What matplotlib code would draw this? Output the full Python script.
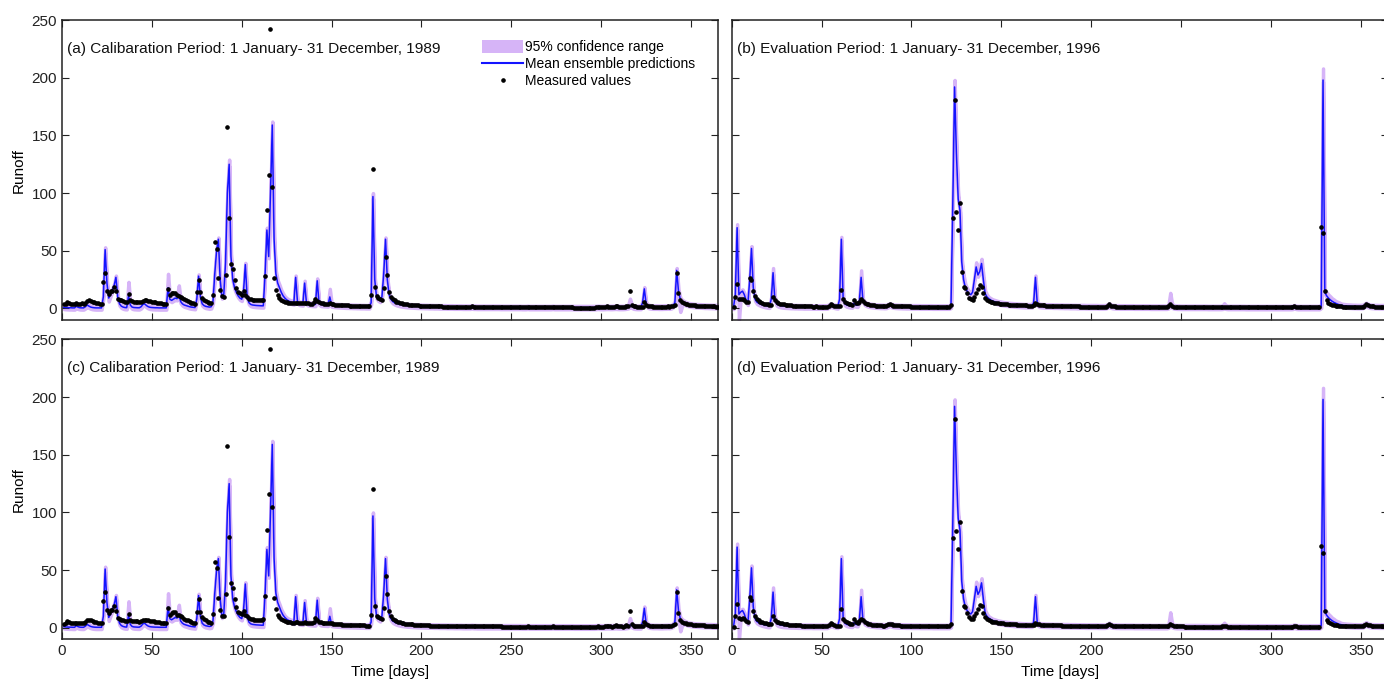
import numpy as np
import matplotlib.pyplot as plt
from matplotlib.patches import Patch
from matplotlib.lines import Line2D

plt.rcParams['font.family'] = ['Liberation Sans', 'DejaVu Sans']

days = np.arange(1, 366)

# ---- 1989 (calibration) ----
obs_1989 = [
    3.5, 3.8, 6.0, 4.8, 4.2, 4.0, 3.8, 4.5, 4.0, 3.8,
    4.5, 4.2, 5.0, 6.5, 7.0, 6.8, 6.0, 5.2, 4.8, 4.5,
    4.2, 4.0, 23.0, 30.9, 15.5, 12.5, 15.5, 15.5, 19.0, 15.0,
    8.5, 7.5, 7.0, 6.5, 6.0, 5.8, 12.2, 7.0, 6.2, 6.0,
    5.8, 5.6, 5.5, 5.8, 6.5, 7.2, 7.0, 6.5, 6.2, 6.0,
    5.6, 5.2, 5.0, 4.8, 4.5, 4.3, 4.2, 4.0, 16.9, 11.5,
    13.0, 13.5, 13.5, 11.5, 11.0, 10.0, 9.0, 8.0, 7.2, 6.5,
    5.8, 5.0, 4.5, 4.0, 14.0, 25.0, 14.0, 9.0, 7.5, 6.5,
    5.5, 5.0, 4.5, 12.1, 57.4, 51.6, 26.2, 15.6, 10.4, 10.0,
    29.1, 157.4, 78.4, 38.6, 34.3, 24.8, 17.9, 14.1, 13.0, 12.0,
    15.0, 11.3, 10.0, 8.5, 8.0, 7.5, 7.2, 7.0, 7.0, 7.0,
    7.2, 7.5, 28.0, 85.0, 115.6, 242.0, 105.0, 26.0, 16.0, 11.5,
    9.0, 7.5, 6.5, 6.0, 5.5, 5.0, 4.8, 4.6, 4.5, 5.0,
    4.8, 4.6, 4.5, 4.4, 5.0, 4.6, 4.4, 4.3, 4.2, 5.5,
    8.5, 6.5, 5.5, 4.8, 4.5, 4.3, 4.2, 4.0, 4.5, 3.8,
    3.6, 3.4, 3.2, 3.1, 3.0, 2.9, 2.8, 2.7, 2.6, 2.5,
    2.4, 2.4, 2.3, 2.3, 2.2, 2.2, 2.1, 2.1, 2.0, 2.0,
    2.0, 11.5, 120.7, 19.0, 10.5, 9.0, 8.5, 7.5, 17.5, 44.6,
    29.0, 14.5, 10.0, 8.0, 7.0, 6.0, 5.3, 4.8, 4.4, 4.0,
    3.7, 3.5, 3.3, 3.1, 3.0, 2.8, 2.7, 2.6, 2.5, 2.4,
    2.3, 2.2, 2.2, 2.1, 2.0, 2.0, 1.9, 1.9, 1.8, 1.8,
    1.8, 1.7, 1.7, 1.7, 1.6, 1.6, 1.6, 1.5, 1.5, 1.5,
    1.5, 1.5, 1.4, 1.4, 1.4, 1.4, 1.4, 1.8, 1.5, 1.4,
    1.4, 1.3, 1.3, 1.3, 1.3, 1.3, 1.2, 1.2, 1.2, 1.2,
    1.2, 1.2, 1.2, 1.2, 1.1, 1.1, 1.1, 1.1, 1.1, 1.1,
    1.1, 1.0, 1.0, 1.0, 1.0, 1.0, 1.0, 1.0, 1.3, 1.0,
    1.0, 1.0, 1.0, 1.0, 0.9, 0.9, 0.9, 0.9, 0.9, 0.9,
    0.9, 0.9, 1.2, 0.9, 0.9, 0.9, 0.9, 0.9, 0.9, 0.9,
    0.9, 0.9, 0.9, 0.9, 0.8, 0.8, 0.8, 0.8, 0.8, 0.8,
    0.8, 0.8, 0.8, 0.8, 0.8, 0.8, 0.9, 1.2, 1.0, 0.9,
    0.9, 1.5, 2.0, 1.5, 1.2, 1.0, 1.5, 2.2, 1.8, 1.4,
    1.2, 1.0, 1.5, 2.5, 2.0, 15.0, 3.0, 2.0, 1.8, 1.5,
    1.5, 1.4, 1.5, 5.5, 3.0, 2.2, 2.0, 1.8, 1.7, 1.6,
    1.6, 1.5, 1.5, 1.5, 1.5, 1.6, 1.8, 1.5, 2.0, 2.5,
    3.0, 31.0, 13.0, 7.0, 5.5, 4.5, 4.0, 3.5, 3.2, 3.0,
    2.8, 2.6, 2.5, 2.4, 2.3, 2.2, 2.1, 2.0, 2.0, 1.9,
    1.9, 1.8, 1.8, 1.7, 1.7,
]

mean_1989 = [
    1.0, 0.8, 0.7, 0.6, 0.6, 0.5, 0.5, 2.0, 1.0, 0.6,
    0.5, 0.5, 1.5, 3.0, 2.0, 1.2, 0.8, 0.6, 0.5, 0.5,
    0.5, 0.5, 10.0, 51.0, 22.0, 9.0, 12.0, 16.0, 20.0, 27.0,
    10.0, 4.0, 2.0, 1.2, 0.8, 0.7, 11.0, 3.0, 1.2, 0.8,
    0.7, 0.6, 0.6, 1.5, 3.5, 4.0, 2.5, 1.5, 1.0, 0.8,
    0.7, 0.6, 0.6, 0.5, 0.5, 0.5, 0.5, 0.5, 18.0, 8.0,
    7.0, 8.0, 9.0, 8.5, 12.0, 6.0, 4.0, 3.0, 2.5, 2.0,
    1.5, 1.2, 1.0, 0.8, 8.0, 28.0, 10.0, 4.0, 2.5, 1.8,
    1.5, 1.2, 1.5, 6.0, 30.0, 50.0, 60.0, 25.0, 10.0, 12.0,
    40.0, 100.0, 125.0, 45.0, 25.0, 18.0, 14.0, 11.0, 9.0, 8.0,
    15.0, 38.0, 10.0, 5.0, 3.5, 3.0, 2.8, 2.6, 2.5, 2.4,
    2.3, 2.3, 30.0, 68.0, 45.0, 100.0, 159.0, 60.0, 30.0, 22.0,
    18.0, 14.0, 11.0, 9.0, 7.5, 6.5, 5.8, 5.2, 4.8, 27.0,
    6.0, 4.5, 4.2, 4.0, 22.0, 5.0, 4.0, 3.8, 3.6, 3.5,
    3.5, 24.0, 5.0, 3.6, 3.4, 3.3, 3.2, 3.1, 10.0, 3.0,
    2.8, 2.6, 2.5, 2.4, 2.3, 2.2, 2.1, 2.0, 2.0, 1.9,
    1.9, 1.8, 1.8, 1.7, 1.7, 1.6, 1.6, 1.6, 1.5, 1.5,
    1.5, 5.0, 97.0, 25.0, 10.0, 8.0, 7.0, 10.0, 30.0, 60.0,
    25.0, 12.0, 8.0, 6.0, 5.0, 4.3, 3.8, 3.4, 3.1, 2.9,
    2.7, 2.5, 2.4, 2.3, 2.2, 2.1, 2.0, 1.9, 1.9, 1.8,
    1.8, 1.7, 1.7, 1.6, 1.6, 1.6, 1.5, 1.5, 1.5, 1.4,
    1.4, 1.4, 1.4, 1.3, 1.3, 1.3, 1.3, 1.2, 1.2, 1.2,
    1.2, 1.2, 1.1, 1.1, 1.1, 1.1, 1.1, 1.3, 1.1, 1.1,
    1.0, 1.0, 1.0, 1.0, 1.0, 1.0, 1.0, 1.0, 1.0, 1.0,
    1.0, 1.0, 1.0, 0.9, 0.9, 0.9, 0.9, 0.9, 0.9, 0.9,
    0.9, 0.9, 0.9, 0.9, 0.9, 0.8, 0.8, 0.8, 1.0, 0.8,
    0.8, 0.8, 0.8, 0.8, 0.8, 0.8, 0.8, 0.8, 0.8, 0.8,
    0.8, 0.8, 1.0, 0.8, 0.8, 0.8, 0.8, 0.8, 0.8, 0.8,
    0.8, 0.8, 0.8, 0.8, 0.7, 0.7, 0.7, 0.7, 0.7, 0.7,
    0.7, 0.7, 0.7, 0.7, 0.7, 0.7, 0.8, 1.0, 0.9, 0.8,
    0.8, 0.9, 1.0, 1.0, 0.9, 0.9, 1.0, 1.1, 1.0, 0.9,
    0.9, 0.9, 1.0, 1.2, 1.5, 2.5, 2.0, 1.2, 1.0, 0.9,
    0.9, 0.9, 5.0, 17.0, 4.0, 2.0, 1.5, 1.3, 1.2, 1.2,
    1.2, 1.1, 1.1, 1.1, 1.2, 1.2, 1.3, 1.2, 1.5, 2.5,
    5.0, 33.0, 15.0, 8.0, 6.0, 5.0, 4.2, 3.6, 3.2, 2.9,
    2.7, 2.5, 2.4, 2.3, 2.2, 2.1, 2.0, 1.9, 1.9, 1.8,
    1.8, 1.7, 1.7, 1.6, 1.6,
]

# distance of the 95% band above / below the ensemble mean
ci_up_1989 = [
    1.5, 1.5, 1.5, 1.5, 1.5, 1.5, 1.5, 1.5, 1.5, 1.5,
    1.5, 1.5, 1.5, 1.5, 1.5, 1.5, 1.5, 1.5, 1.5, 1.5,
    1.5, 1.5, 2.0, 2.0, 2.0, 1.5, 1.5, 1.5, 1.5, 1.5,
    1.5, 1.5, 1.5, 1.5, 1.5, 1.5, 12.0, 1.5, 1.5, 1.5,
    1.5, 1.5, 1.5, 1.5, 1.5, 1.5, 1.5, 1.5, 1.5, 1.5,
    1.5, 1.5, 1.5, 1.5, 1.5, 1.5, 1.5, 1.5, 12.0, 2.0,
    1.5, 1.5, 1.5, 1.5, 8.0, 1.5, 1.5, 1.5, 1.5, 1.5,
    1.5, 1.5, 1.5, 1.5, 2.0, 1.5, 1.5, 1.5, 1.5, 1.5,
    1.5, 1.5, 1.5, 1.5, 2.0, 2.0, 1.5, 1.5, 1.5, 1.5,
    1.5, 2.0, 4.0, 2.0, 1.5, 1.5, 1.5, 1.5, 1.5, 1.5,
    1.5, 1.5, 1.5, 1.5, 1.5, 1.5, 1.5, 1.5, 1.5, 1.5,
    1.5, 1.5, 2.0, 2.0, 2.0, 2.0, 3.0, 2.5, 2.5, 2.5,
    2.5, 2.0, 2.0, 1.5, 1.5, 1.5, 1.5, 1.5, 1.5, 1.5,
    1.5, 1.5, 1.5, 1.5, 2.0, 1.5, 1.5, 1.5, 1.5, 1.5,
    1.5, 2.0, 1.5, 1.5, 1.5, 1.5, 1.5, 1.5, 7.0, 1.5,
    1.5, 1.5, 1.5, 1.5, 1.5, 1.5, 1.5, 1.5, 1.5, 1.5,
    1.5, 1.5, 1.5, 1.5, 1.5, 1.5, 1.5, 1.5, 1.5, 1.5,
    1.5, 1.5, 3.0, 2.0, 1.5, 1.5, 1.5, 1.5, 1.5, 1.5,
    1.5, 1.5, 1.5, 1.5, 1.5, 1.5, 1.5, 1.5, 1.5, 1.5,
    1.5, 1.5, 1.5, 1.5, 1.5, 1.5, 1.5, 1.5, 1.5, 1.5,
    1.5, 1.5, 1.5, 1.5, 1.5, 1.5, 1.5, 1.5, 1.5, 1.5,
    1.5, 1.5, 1.5, 1.5, 1.5, 1.5, 1.5, 1.5, 1.5, 1.5,
    1.5, 1.5, 1.5, 1.5, 1.5, 1.5, 1.5, 1.5, 1.5, 1.5,
    1.5, 1.5, 1.5, 1.5, 1.5, 1.5, 1.5, 1.5, 1.5, 1.5,
    1.5, 1.5, 1.5, 1.5, 1.5, 1.5, 1.5, 1.5, 1.5, 1.5,
    1.5, 1.5, 1.5, 1.5, 1.5, 1.5, 1.5, 1.5, 1.5, 1.5,
    1.5, 1.5, 1.5, 1.5, 1.5, 1.5, 1.5, 1.5, 1.5, 1.5,
    1.5, 1.5, 1.5, 1.5, 1.5, 1.5, 1.5, 1.5, 1.5, 1.5,
    1.5, 1.5, 1.5, 1.5, 1.5, 1.5, 1.5, 1.5, 1.5, 1.5,
    1.5, 1.5, 1.5, 1.5, 1.5, 1.5, 1.5, 1.5, 1.5, 1.5,
    1.5, 1.5, 1.5, 1.5, 1.5, 1.5, 1.5, 1.5, 1.5, 1.5,
    1.5, 1.5, 1.5, 1.5, 1.5, 6.0, 1.5, 1.5, 1.5, 1.5,
    1.5, 1.5, 1.5, 1.5, 1.5, 1.5, 1.5, 1.5, 1.5, 1.5,
    1.5, 1.5, 1.5, 1.5, 1.5, 1.5, 1.5, 1.5, 1.5, 1.5,
    1.5, 2.0, 1.5, 1.5, 1.5, 1.5, 1.5, 1.5, 1.5, 1.5,
    1.5, 1.5, 1.5, 1.5, 1.5, 1.5, 1.5, 1.5, 1.5, 1.5,
    1.5, 1.5, 1.5, 1.5, 1.5,
]

ci_dn_1989 = [
    1.5, 1.5, 1.5, 1.5, 1.5, 1.5, 1.5, 1.5, 1.5, 1.5,
    1.5, 1.5, 1.5, 1.5, 1.5, 1.5, 1.5, 1.5, 1.5, 1.5,
    1.5, 1.5, 1.5, 3.0, 3.0, 3.0, 1.5, 1.5, 1.5, 1.5,
    1.5, 1.5, 1.5, 1.5, 1.5, 1.5, 1.5, 1.5, 1.5, 1.5,
    1.5, 1.5, 1.5, 1.5, 1.5, 1.5, 1.5, 1.5, 1.5, 1.5,
    1.5, 1.5, 1.5, 1.5, 1.5, 1.5, 1.5, 1.5, 1.5, 1.5,
    1.5, 1.5, 1.5, 1.5, 1.5, 1.5, 1.5, 1.5, 1.5, 1.5,
    1.5, 1.5, 1.5, 1.5, 1.5, 1.5, 1.5, 1.5, 1.5, 1.5,
    1.5, 1.5, 1.5, 1.5, 1.5, 1.5, 1.5, 1.5, 1.5, 1.5,
    1.5, 1.5, 1.5, 1.5, 1.5, 1.5, 1.5, 1.5, 1.5, 1.5,
    1.5, 1.5, 1.5, 1.5, 1.5, 1.5, 1.5, 1.5, 1.5, 1.5,
    1.5, 1.5, 1.5, 1.5, 1.5, 1.5, 1.5, 1.5, 1.5, 1.5,
    1.5, 1.5, 1.5, 1.5, 1.5, 1.5, 1.5, 1.5, 1.5, 1.5,
    1.5, 1.5, 1.5, 1.5, 1.5, 1.5, 1.5, 1.5, 1.5, 1.5,
    1.5, 1.5, 1.5, 1.5, 1.5, 1.5, 1.5, 1.5, 1.5, 1.5,
    1.5, 1.5, 1.5, 1.5, 1.5, 1.5, 1.5, 1.5, 1.5, 1.5,
    1.5, 1.5, 1.5, 1.5, 1.5, 1.5, 1.5, 1.5, 1.5, 1.5,
    1.5, 1.5, 1.5, 1.5, 1.5, 1.5, 1.5, 1.5, 1.5, 1.5,
    1.5, 1.5, 1.5, 1.5, 1.5, 1.5, 1.5, 1.5, 1.5, 1.5,
    1.5, 1.5, 1.5, 1.5, 1.5, 1.5, 1.5, 1.5, 1.5, 1.5,
    1.5, 1.5, 1.5, 1.5, 1.5, 1.5, 1.5, 1.5, 1.5, 1.5,
    1.5, 1.5, 1.5, 1.5, 1.5, 1.5, 1.5, 1.5, 1.5, 1.5,
    1.5, 1.5, 1.5, 1.5, 1.5, 1.5, 1.5, 1.5, 1.5, 1.5,
    1.5, 1.5, 1.5, 1.5, 1.5, 1.5, 1.5, 1.5, 1.5, 1.5,
    1.5, 1.5, 1.5, 1.5, 1.5, 1.5, 1.5, 1.5, 1.5, 1.5,
    1.5, 1.5, 1.5, 1.5, 1.5, 1.5, 1.5, 1.5, 1.5, 1.5,
    1.5, 1.5, 1.5, 1.5, 1.5, 1.5, 1.5, 1.5, 1.5, 1.5,
    1.5, 1.5, 1.5, 1.5, 1.5, 1.5, 1.5, 1.5, 1.5, 1.5,
    1.5, 1.5, 1.5, 1.5, 1.5, 1.5, 1.5, 1.5, 1.5, 1.5,
    1.5, 1.5, 1.5, 1.5, 1.5, 1.5, 1.5, 1.5, 1.5, 1.5,
    1.5, 1.5, 1.5, 1.5, 1.5, 1.5, 1.5, 1.5, 1.5, 1.5,
    1.5, 1.5, 1.5, 1.5, 1.5, 1.5, 1.5, 1.5, 1.5, 1.5,
    1.5, 1.5, 1.5, 1.5, 1.5, 1.5, 1.5, 1.5, 1.5, 1.5,
    1.5, 1.5, 1.5, 1.5, 1.5, 1.5, 1.5, 1.5, 1.5, 1.5,
    1.5, 1.5, 8.0, 11.0, 4.0, 1.5, 1.5, 1.5, 1.5, 1.5,
    1.5, 1.5, 1.5, 1.5, 1.5, 1.5, 1.5, 1.5, 1.5, 1.5,
    1.5, 1.5, 1.5, 1.5, 1.5,
]

# ---- 1996 (evaluation) ----
obs_1996 = [
    1.0, 10.0, 21.0, 8.5, 8.0, 8.5, 7.5, 6.0, 5.5, 26.5,
    24.5, 15.0, 10.5, 8.0, 6.5, 5.5, 4.8, 4.2, 3.8, 3.5,
    3.3, 3.0, 10.0, 7.0, 5.5, 4.8, 4.2, 3.8, 3.5, 3.2,
    3.0, 2.8, 2.6, 2.5, 2.4, 2.3, 2.2, 2.1, 2.0, 2.0,
    1.9, 1.9, 1.8, 1.8, 1.7, 1.7, 1.8, 1.7, 1.6, 1.6,
    1.6, 1.5, 1.6, 2.5, 4.0, 3.0, 2.5, 2.0, 1.8, 1.8,
    16.0, 8.0, 6.0, 5.0, 4.0, 3.5, 3.2, 7.6, 5.0, 4.5,
    6.0, 8.0, 6.5, 5.0, 4.2, 3.6, 3.2, 2.9, 2.7, 2.5,
    2.3, 2.2, 2.1, 2.0, 2.0, 2.2, 3.0, 3.5, 3.0, 2.5,
    2.3, 2.2, 2.1, 2.0, 1.9, 1.9, 1.8, 1.8, 1.8, 1.7,
    1.7, 1.7, 1.6, 1.6, 1.6, 1.6, 1.5, 1.5, 1.5, 1.5,
    1.5, 1.4, 1.4, 1.4, 1.4, 1.4, 1.4, 1.3, 1.3, 1.3,
    1.3, 3.0, 78.0, 180.7, 83.8, 68.0, 91.6, 31.8, 18.7, 18.0,
    13.0, 9.5, 8.0, 7.5, 10.0, 13.0, 16.5, 20.0, 19.0, 13.0,
    9.5, 7.5, 6.5, 6.0, 5.5, 5.0, 4.7, 4.4, 4.2, 4.0,
    3.8, 3.7, 3.5, 3.4, 3.3, 3.2, 3.1, 3.0, 2.9, 2.8,
    2.8, 2.7, 2.6, 2.6, 2.5, 2.5, 2.4, 2.6, 4.4, 3.5,
    3.0, 2.8, 2.7, 2.6, 2.5, 2.4, 2.4, 2.3, 2.3, 2.2,
    2.2, 2.1, 2.1, 2.0, 2.0, 2.0, 1.9, 1.9, 1.9, 1.8,
    1.8, 1.8, 1.8, 1.7, 1.7, 1.7, 1.7, 1.6, 1.6, 1.6,
    1.6, 1.6, 1.5, 1.5, 1.5, 1.5, 1.5, 1.6, 2.5, 3.5,
    2.5, 2.0, 1.8, 1.6, 1.5, 1.5, 1.4, 1.4, 1.4, 1.4,
    1.4, 1.4, 1.4, 1.4, 1.3, 1.3, 1.3, 1.3, 1.3, 1.3,
    1.3, 1.3, 1.3, 1.3, 1.2, 1.2, 1.2, 1.2, 1.2, 1.2,
    1.2, 1.2, 2.0, 3.5, 2.2, 1.6, 1.4, 1.3, 1.2, 1.2,
    1.2, 1.1, 1.1, 1.1, 1.1, 1.1, 1.1, 1.1, 1.1, 1.1,
    1.0, 1.0, 1.0, 1.0, 1.0, 1.0, 1.0, 1.0, 1.0, 1.0,
    1.0, 1.0, 1.2, 1.5, 1.2, 1.0, 1.0, 1.0, 1.0, 1.0,
    1.0, 1.0, 1.0, 1.0, 1.0, 0.9, 0.9, 0.9, 0.9, 0.9,
    0.9, 0.9, 0.9, 0.9, 0.9, 0.9, 0.9, 0.9, 0.9, 0.9,
    0.9, 0.9, 0.9, 0.9, 0.9, 0.9, 0.9, 0.9, 0.9, 0.9,
    0.9, 1.0, 2.0, 1.2, 1.0, 0.9, 0.9, 0.9, 0.9, 0.9,
    0.9, 0.9, 0.9, 0.9, 0.9, 0.9, 0.9, 70.8, 65.0, 15.0,
    7.2, 5.0, 4.0, 3.3, 2.8, 2.4, 2.1, 1.9, 1.8, 1.7,
    1.6, 1.6, 1.5, 1.5, 1.5, 1.4, 1.4, 1.4, 1.4, 1.4,
    1.6, 2.5, 3.5, 2.8, 2.2, 1.9, 1.8, 1.7, 1.6, 1.6,
    1.5, 1.5, 1.5, 1.5, 1.5,
]

mean_1996 = [
    1.0, 12.0, 70.0, 12.0, 14.0, 15.0, 12.0, 7.0, 4.5, 25.0,
    52.0, 18.0, 8.0, 5.5, 4.5, 3.8, 3.2, 2.8, 2.4, 2.1,
    2.0, 8.0, 31.0, 8.0, 4.0, 3.0, 2.6, 2.3, 2.1, 2.0,
    1.9, 1.8, 1.7, 1.7, 1.6, 1.6, 1.5, 1.5, 1.5, 1.4,
    1.4, 1.4, 1.4, 1.4, 1.3, 1.3, 1.3, 1.3, 1.3, 1.3,
    1.3, 1.3, 1.3, 2.0, 3.0, 2.5, 2.0, 1.6, 1.4, 8.0,
    60.0, 8.0, 4.0, 3.0, 2.6, 2.3, 2.2, 4.5, 3.0, 2.8,
    6.0, 27.0, 7.0, 4.5, 3.6, 3.0, 2.7, 2.5, 2.3, 2.1,
    2.0, 1.9, 1.8, 1.8, 1.7, 1.8, 2.5, 3.0, 2.5, 2.1,
    1.9, 1.8, 1.7, 1.7, 1.6, 1.6, 1.5, 1.5, 1.5, 1.4,
    1.4, 1.4, 1.4, 1.4, 1.3, 1.3, 1.3, 1.3, 1.3, 1.3,
    1.3, 1.2, 1.2, 1.2, 1.2, 1.2, 1.2, 1.2, 1.2, 1.2,
    1.2, 2.0, 90.0, 192.0, 135.0, 95.0, 85.0, 40.0, 25.0, 18.0,
    15.0, 13.0, 12.0, 14.0, 25.0, 36.0, 29.0, 32.0, 39.0, 25.0,
    13.0, 10.0, 8.5, 7.5, 6.5, 6.0, 5.5, 5.0, 4.7, 4.4,
    4.1, 3.9, 3.7, 3.5, 3.3, 3.2, 3.0, 2.9, 2.8, 2.7,
    2.6, 2.5, 2.4, 2.4, 2.3, 2.3, 2.3, 5.0, 27.0, 4.0,
    2.8, 2.5, 2.4, 2.3, 2.2, 2.2, 2.1, 2.1, 2.0, 2.0,
    2.0, 1.9, 1.9, 1.9, 1.8, 1.8, 1.8, 1.7, 1.7, 1.7,
    1.7, 1.6, 1.6, 1.6, 1.6, 1.6, 1.5, 1.5, 1.5, 1.5,
    1.5, 1.5, 1.5, 1.4, 1.4, 1.4, 1.4, 1.5, 2.0, 2.5,
    2.0, 1.6, 1.5, 1.4, 1.4, 1.3, 1.3, 1.3, 1.3, 1.3,
    1.3, 1.3, 1.3, 1.2, 1.2, 1.2, 1.2, 1.2, 1.2, 1.2,
    1.2, 1.2, 1.1, 1.1, 1.1, 1.1, 1.1, 1.1, 1.1, 1.1,
    1.1, 1.1, 1.5, 3.5, 2.0, 1.4, 1.2, 1.1, 1.1, 1.0,
    1.0, 1.0, 1.0, 1.0, 1.0, 1.0, 1.0, 1.0, 1.0, 1.0,
    1.0, 1.0, 1.0, 1.0, 0.9, 0.9, 0.9, 0.9, 0.9, 0.9,
    0.9, 0.9, 1.0, 1.5, 1.1, 0.9, 0.9, 0.9, 0.9, 0.9,
    0.9, 0.9, 0.9, 0.9, 0.9, 0.8, 0.8, 0.8, 0.8, 0.8,
    0.8, 0.8, 0.8, 0.8, 0.8, 0.8, 0.8, 0.8, 0.8, 0.8,
    0.8, 0.8, 0.8, 0.8, 0.8, 0.8, 0.8, 0.8, 0.8, 0.8,
    0.8, 0.9, 1.5, 1.0, 0.8, 0.8, 0.8, 0.8, 0.8, 0.8,
    0.8, 0.8, 0.8, 0.8, 0.8, 0.8, 0.8, 2.0, 198.0, 14.0,
    11.0, 9.0, 7.5, 6.3, 5.3, 4.5, 3.8, 3.2, 2.8, 2.5,
    2.3, 2.1, 2.0, 1.9, 1.8, 1.7, 1.7, 1.6, 1.6, 1.6,
    1.7, 2.5, 3.5, 2.5, 2.0, 1.8, 1.7, 1.6, 1.6, 1.5,
    1.5, 1.5, 1.5, 1.5, 1.5,
]

ci_up_1996 = [
    1.5, 1.5, 3.0, 1.5, 1.5, 1.5, 1.5, 1.5, 1.5, 1.5,
    2.0, 1.5, 1.5, 1.5, 1.5, 1.5, 1.5, 1.5, 1.5, 1.5,
    1.5, 2.0, 4.0, 2.0, 1.5, 1.5, 1.5, 1.5, 1.5, 1.5,
    1.5, 1.5, 1.5, 1.5, 1.5, 1.5, 1.5, 1.5, 1.5, 1.5,
    1.5, 1.5, 1.5, 1.5, 1.5, 1.5, 1.5, 1.5, 1.5, 1.5,
    1.5, 1.5, 1.5, 1.5, 1.5, 1.5, 1.5, 1.5, 1.5, 1.5,
    2.0, 1.5, 1.5, 1.5, 1.5, 1.5, 1.5, 1.5, 1.5, 1.5,
    1.5, 6.0, 1.5, 1.5, 1.5, 1.5, 1.5, 1.5, 1.5, 1.5,
    1.5, 1.5, 1.5, 1.5, 1.5, 1.5, 1.5, 1.5, 1.5, 1.5,
    1.5, 1.5, 1.5, 1.5, 1.5, 1.5, 1.5, 1.5, 1.5, 1.5,
    1.5, 1.5, 1.5, 1.5, 1.5, 1.5, 1.5, 1.5, 1.5, 1.5,
    1.5, 1.5, 1.5, 1.5, 1.5, 1.5, 1.5, 1.5, 1.5, 1.5,
    1.5, 1.5, 3.0, 6.0, 4.0, 3.0, 3.0, 3.0, 4.0, 3.0,
    2.5, 2.0, 2.0, 2.0, 2.0, 4.0, 3.0, 3.0, 4.0, 4.0,
    2.5, 2.0, 1.5, 1.5, 1.5, 1.5, 1.5, 1.5, 1.5, 1.5,
    1.5, 1.5, 1.5, 1.5, 1.5, 1.5, 1.5, 1.5, 1.5, 1.5,
    1.5, 1.5, 1.5, 1.5, 1.5, 1.5, 1.5, 1.5, 1.5, 1.5,
    1.5, 1.5, 1.5, 1.5, 1.5, 1.5, 1.5, 1.5, 1.5, 1.5,
    1.5, 1.5, 1.5, 1.5, 1.5, 1.5, 1.5, 1.5, 1.5, 1.5,
    1.5, 1.5, 1.5, 1.5, 1.5, 1.5, 1.5, 1.5, 1.5, 1.5,
    1.5, 1.5, 1.5, 1.5, 1.5, 1.5, 1.5, 1.5, 1.5, 2.0,
    1.5, 1.5, 1.5, 1.5, 1.5, 1.5, 1.5, 1.5, 1.5, 1.5,
    1.5, 1.5, 1.5, 1.5, 1.5, 1.5, 1.5, 1.5, 1.5, 1.5,
    1.5, 1.5, 1.5, 1.5, 1.5, 1.5, 1.5, 1.5, 1.5, 1.5,
    1.5, 1.5, 1.5, 10.0, 2.0, 1.5, 1.5, 1.5, 1.5, 1.5,
    1.5, 1.5, 1.5, 1.5, 1.5, 1.5, 1.5, 1.5, 1.5, 1.5,
    1.5, 1.5, 1.5, 1.5, 1.5, 1.5, 1.5, 1.5, 1.5, 1.5,
    1.5, 1.5, 1.5, 3.0, 1.5, 1.5, 1.5, 1.5, 1.5, 1.5,
    1.5, 1.5, 1.5, 1.5, 1.5, 1.5, 1.5, 1.5, 1.5, 1.5,
    1.5, 1.5, 1.5, 1.5, 1.5, 1.5, 1.5, 1.5, 1.5, 1.5,
    1.5, 1.5, 1.5, 1.5, 1.5, 1.5, 1.5, 1.5, 1.5, 1.5,
    1.5, 1.5, 1.5, 1.5, 1.5, 1.5, 1.5, 1.5, 1.5, 1.5,
    1.5, 1.5, 1.5, 1.5, 1.5, 1.5, 1.5, 1.5, 10.0, 2.0,
    3.0, 3.0, 3.0, 2.5, 2.5, 2.0, 2.0, 2.0, 1.5, 1.5,
    1.5, 1.5, 1.5, 1.5, 1.5, 1.5, 1.5, 1.5, 1.5, 1.5,
    1.5, 1.5, 1.5, 1.5, 1.5, 1.5, 1.5, 1.5, 1.5, 1.5,
    1.5, 1.5, 1.5, 1.5, 1.5,
]

ci_dn_1996 = [
    1.5, 1.5, 1.5, 22.0, 5.0, 1.5, 1.5, 1.5, 1.5, 1.5,
    1.5, 1.5, 1.5, 1.5, 1.5, 1.5, 1.5, 1.5, 1.5, 1.5,
    1.5, 1.5, 1.5, 1.5, 1.5, 1.5, 1.5, 1.5, 1.5, 1.5,
    1.5, 1.5, 1.5, 1.5, 1.5, 1.5, 1.5, 1.5, 1.5, 1.5,
    1.5, 1.5, 1.5, 1.5, 1.5, 1.5, 1.5, 1.5, 1.5, 1.5,
    1.5, 1.5, 1.5, 1.5, 1.5, 1.5, 1.5, 1.5, 1.5, 1.5,
    1.5, 1.5, 1.5, 1.5, 1.5, 1.5, 1.5, 1.5, 1.5, 1.5,
    1.5, 1.5, 1.5, 1.5, 1.5, 1.5, 1.5, 1.5, 1.5, 1.5,
    1.5, 1.5, 1.5, 1.5, 1.5, 1.5, 1.5, 1.5, 1.5, 1.5,
    1.5, 1.5, 1.5, 1.5, 1.5, 1.5, 1.5, 1.5, 1.5, 1.5,
    1.5, 1.5, 1.5, 1.5, 1.5, 1.5, 1.5, 1.5, 1.5, 1.5,
    1.5, 1.5, 1.5, 1.5, 1.5, 1.5, 1.5, 1.5, 1.5, 1.5,
    1.5, 1.5, 1.5, 1.5, 1.5, 1.5, 1.5, 1.5, 1.5, 1.5,
    1.5, 1.5, 1.5, 1.5, 1.5, 1.5, 1.5, 1.5, 1.5, 1.5,
    1.5, 1.5, 1.5, 1.5, 1.5, 1.5, 1.5, 1.5, 1.5, 1.5,
    1.5, 1.5, 1.5, 1.5, 1.5, 1.5, 1.5, 1.5, 1.5, 1.5,
    1.5, 1.5, 1.5, 1.5, 1.5, 1.5, 1.5, 1.5, 1.5, 1.5,
    1.5, 1.5, 1.5, 1.5, 1.5, 1.5, 1.5, 1.5, 1.5, 1.5,
    1.5, 1.5, 1.5, 1.5, 1.5, 1.5, 1.5, 1.5, 1.5, 1.5,
    1.5, 1.5, 1.5, 1.5, 1.5, 1.5, 1.5, 1.5, 1.5, 1.5,
    1.5, 1.5, 1.5, 1.5, 1.5, 1.5, 1.5, 1.5, 1.5, 1.5,
    1.5, 1.5, 1.5, 1.5, 1.5, 1.5, 1.5, 1.5, 1.5, 1.5,
    1.5, 1.5, 1.5, 1.5, 1.5, 1.5, 1.5, 1.5, 1.5, 1.5,
    1.5, 1.5, 1.5, 1.5, 1.5, 1.5, 1.5, 1.5, 1.5, 1.5,
    1.5, 1.5, 1.5, 1.5, 1.5, 1.5, 1.5, 1.5, 1.5, 1.5,
    1.5, 1.5, 1.5, 1.5, 1.5, 1.5, 1.5, 1.5, 1.5, 1.5,
    1.5, 1.5, 1.5, 1.5, 1.5, 1.5, 1.5, 1.5, 1.5, 1.5,
    1.5, 1.5, 1.5, 1.5, 1.5, 1.5, 1.5, 1.5, 1.5, 1.5,
    1.5, 1.5, 1.5, 1.5, 1.5, 1.5, 1.5, 1.5, 1.5, 1.5,
    1.5, 1.5, 1.5, 1.5, 1.5, 1.5, 1.5, 1.5, 1.5, 1.5,
    1.5, 1.5, 1.5, 1.5, 1.5, 1.5, 1.5, 1.5, 1.5, 1.5,
    1.5, 1.5, 1.5, 1.5, 1.5, 1.5, 1.5, 1.5, 1.5, 1.5,
    1.5, 1.5, 1.5, 1.5, 1.5, 1.5, 1.5, 1.5, 1.5, 1.5,
    1.5, 1.5, 1.5, 1.5, 1.5, 1.5, 1.5, 1.5, 1.5, 1.5,
    1.5, 1.5, 1.5, 1.5, 1.5, 1.5, 1.5, 1.5, 1.5, 1.5,
    1.5, 1.5, 1.5, 1.5, 1.5, 1.5, 1.5, 1.5, 1.5, 1.5,
    1.5, 1.5, 1.5, 1.5, 1.5,
]

titles = [
    "(a) Calibaration Period: 1 January- 31 December, 1989",
    "(b) Evaluation Period: 1 January- 31 December, 1996",
    "(c) Calibaration Period: 1 January- 31 December, 1989",
    "(d) Evaluation Period: 1 January- 31 December, 1996",
]
xticks = [0, 50, 100, 150, 200, 250, 300, 350]
yticks = [0, 50, 100, 150, 200, 250]

BAND = '#d6b4f7'
BLUE = '#1414ff'


def draw_panel(ax, obs, mean, up, dn, title, left, bottom):
    obs = np.array(obs); mean = np.array(mean)
    hi = mean + np.array(up)
    lo = mean - np.array(dn)
    # edge stroke in the band colour gives the soft halo seen round the line
    ax.fill_between(days, lo, hi, facecolor=BAND, edgecolor=BAND, lw=2.5,
                    zorder=1)
    ax.plot(days, mean, color=BLUE, lw=1.1, zorder=2)
    ax.plot(days, obs, 'o', color='black', ms=2.3, zorder=3)
    ax.set_xlim(0, 365)
    ax.set_ylim(-10, 250)
    ax.set_xticks(xticks)
    ax.set_yticks(yticks)
    ax.tick_params(direction='in', length=5, width=0.8, top=True, right=True,
                   labelsize=11, colors='#222222')
    for s in ax.spines.values():
        s.set_linewidth(1.1)
        s.set_color('#222222')
    if not left:
        ax.set_yticklabels([])
    else:
        ax.set_ylabel('Runoff', fontsize=11, labelpad=4)
    if not bottom:
        ax.set_xticklabels([])
    else:
        ax.set_xlabel('Time [days]', fontsize=11, labelpad=5)
    ax.text(0.008, 0.905, title, transform=ax.transAxes, fontsize=11.1,
            va='center', ha='left', color='#111111')


fig = plt.figure(figsize=(13.84, 6.81), dpi=100)
W, H = 0.474, 0.4405
pos = [
    [0.0448, 0.5301, W, H],
    [0.5287, 0.5301, W, H],
    [0.0448, 0.0611, W, H],
    [0.5287, 0.0611, W, H],
]
series = [
    (obs_1989, mean_1989, ci_up_1989, ci_dn_1989),
    (obs_1996, mean_1996, ci_up_1996, ci_dn_1996),
    (obs_1989, mean_1989, ci_up_1989, ci_dn_1989),
    (obs_1996, mean_1996, ci_up_1996, ci_dn_1996),
]
axes = []
for i in range(4):
    ax = fig.add_axes(pos[i])
    draw_panel(ax, *series[i], titles[i], left=(i % 2 == 0), bottom=(i >= 2))
    axes.append(ax)

handles = [
    Patch(facecolor=BAND, edgecolor='none', label='95% confidence range'),
    Line2D([], [], color=BLUE, lw=1.5, label='Mean ensemble predictions'),
    Line2D([], [], color='black', marker='o', ls='none', ms=2.3, label='Measured values'),
]
axes[0].legend(handles=handles, loc='upper left', bbox_to_anchor=(0.625, 0.965),
               frameon=False, fontsize=10, handlelength=3.0, handleheight=1.0,
               handletextpad=0.15, labelspacing=0.22, borderpad=0.2)

fig.savefig('out.png', dpi=100)
